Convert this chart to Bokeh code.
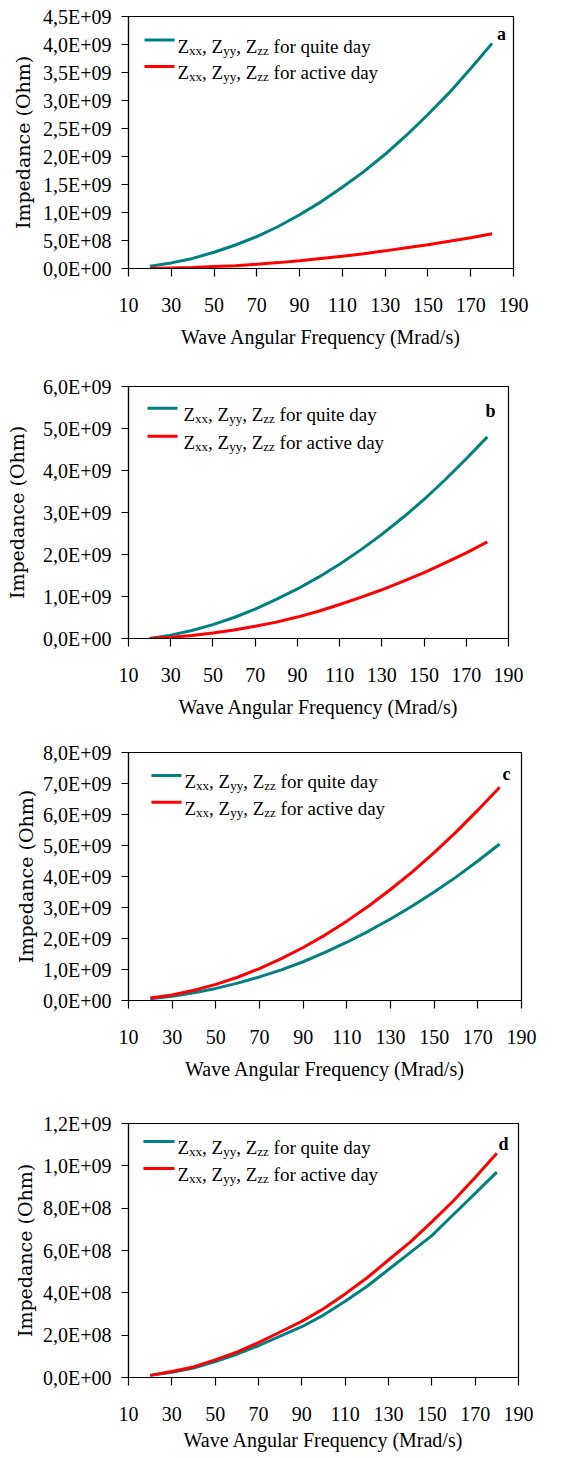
from bokeh.plotting import figure
from bokeh.layouts import column
from bokeh.models import Range1d, FixedTicker, Label
from bokeh.embed import file_html
from bokeh.resources import INLINE
import numpy as np

# ---------------- data (values in units of 1E+09 Ohm) ----------------
freq = [20, 30, 40, 50, 60, 70, 80, 90, 100, 110, 120, 130, 140, 150, 160, 170, 180]

a_quiet = [0.04, 0.10, 0.18, 0.29, 0.42, 0.57, 0.75, 0.96, 1.19, 1.45, 1.73, 2.04, 2.38, 2.75, 3.14, 3.57, 4.02]
a_active = [0.00, 0.01, 0.02, 0.035, 0.05, 0.075, 0.105, 0.14, 0.18, 0.22, 0.265, 0.315, 0.37, 0.425, 0.485, 0.55, 0.62]

b_quiet = [0.00, 0.08, 0.19, 0.33, 0.50, 0.70, 0.93, 1.18, 1.46, 1.77, 2.11, 2.48, 2.88, 3.31, 3.78, 4.28, 4.80]
b_active = [0.00, 0.03, 0.07, 0.13, 0.20, 0.29, 0.39, 0.51, 0.65, 0.81, 0.98, 1.16, 1.36, 1.57, 1.80, 2.04, 2.30]

c_quiet = [0.06, 0.14, 0.25, 0.39, 0.56, 0.76, 0.99, 1.25, 1.55, 1.88, 2.24, 2.63, 3.05, 3.50, 3.98, 4.50, 5.05]
c_active = [0.08, 0.18, 0.33, 0.52, 0.75, 1.03, 1.35, 1.71, 2.11, 2.56, 3.05, 3.58, 4.15, 4.77, 5.43, 6.14, 6.88]

d_quiet = [0.010, 0.025, 0.045, 0.075, 0.110, 0.150, 0.195, 0.240, 0.295, 0.360, 0.430, 0.510, 0.590, 0.670, 0.770, 0.870, 0.970]
d_active = [0.010, 0.028, 0.050, 0.083, 0.120, 0.165, 0.215, 0.265, 0.325, 0.395, 0.470, 0.555, 0.640, 0.735, 0.835, 0.945, 1.060]

x_ticks = [10, 30, 50, 70, 90, 110, 130, 150, 170, 190]
x_labels = ["10", "30", "50", "70", "90", "110", "130", "150", "170", "190"]

a_yticks = [0, 500000000, 1000000000, 1500000000, 2000000000, 2500000000, 3000000000, 3500000000, 4000000000, 4500000000]
a_ylabels = ["0,0E+00", "5,0E+08", "1,0E+09", "1,5E+09", "2,0E+09", "2,5E+09", "3,0E+09", "3,5E+09", "4,0E+09", "4,5E+09"]
b_yticks = [0, 1000000000, 2000000000, 3000000000, 4000000000, 5000000000, 6000000000]
b_ylabels = ["0,0E+00", "1,0E+09", "2,0E+09", "3,0E+09", "4,0E+09", "5,0E+09", "6,0E+09"]
c_yticks = [0, 1000000000, 2000000000, 3000000000, 4000000000, 5000000000, 6000000000, 7000000000, 8000000000]
c_ylabels = ["0,0E+00", "1,0E+09", "2,0E+09", "3,0E+09", "4,0E+09", "5,0E+09", "6,0E+09", "7,0E+09", "8,0E+09"]
d_yticks = [0, 200000000, 400000000, 600000000, 800000000, 1000000000, 1200000000]
d_ylabels = ["0,0E+00", "2,0E+08", "4,0E+08", "6,0E+08", "8,0E+08", "1,0E+09", "1,2E+09"]

legend_quiet = "for quite day"
legend_active = "for active day"
x_title = "Wave Angular Frequency (Mrad/s)"
y_title = "Impedance (Ohm)"

TEAL = "#008080"
RED = "#ff0000"
FONT = "Liberation Serif"
YFONT = "DejaVu Serif"

# Times / Liberation Serif advance widths (per em)
W = {"Z": 0.611, "x": 0.5, "y": 0.5, "z": 0.444, ",": 0.25, " ": 0.25}


def twidth(s, size):
    return sum(W.get(ch, 0.5) for ch in s) * size


def make_panel(quiet, active, yticks, ylabels, tag, bl, bt, bb, fw, fh,
               leg_dx0, leg_dx1, leg_tx, leg_dy, tag_dx, tag_dy,
               x_lbl_standoff=11, y_lbl_standoff=4):
    ymax = yticks[-1]
    p = figure(frame_width=fw, frame_height=fh,
               x_range=Range1d(10, 190), y_range=Range1d(0, ymax),
               output_backend="svg", toolbar_location=None,
               min_border_left=bl, min_border_top=bt, min_border_bottom=bb,
               min_border_right=40)
    p.xgrid.visible = False
    p.ygrid.visible = False
    p.outline_line_color = "black"
    p.outline_line_width = 1.2
    p.background_fill_color = "white"
    p.border_fill_color = "white"

    xa = p.xaxis[0]
    xa.ticker = FixedTicker(ticks=x_ticks)
    xa.major_label_overrides = dict(zip(x_ticks, x_labels))
    xa.major_tick_in = 0
    xa.major_tick_out = 8
    xa.minor_tick_in = 0
    xa.minor_tick_out = 0
    xa.major_label_standoff = 21
    xa.axis_label = x_title
    xa.axis_label_standoff = x_lbl_standoff
    xa.axis_label_text_font = FONT
    xa.axis_label_text_font_size = "20px"
    xa.axis_label_text_font_style = "normal"
    xa.major_label_text_font = FONT
    xa.major_label_text_font_size = "20px"
    xa.axis_line_color = "black"
    xa.axis_line_width = 1.2
    xa.major_tick_line_color = "black"
    xa.major_tick_line_width = 1.2
    xa.axis_label_text_color = "black"
    xa.major_label_text_color = "black"

    ya = p.yaxis[0]
    ya.ticker = FixedTicker(ticks=yticks)
    ya.major_label_overrides = dict(zip(yticks, ylabels))
    ya.major_tick_in = 0
    ya.major_tick_out = 7
    ya.minor_tick_in = 0
    ya.minor_tick_out = 0
    ya.major_label_standoff = 10
    ya.axis_label = y_title
    ya.axis_label_standoff = y_lbl_standoff
    ya.axis_label_text_font = YFONT
    ya.axis_label_text_font_size = "19px"
    ya.axis_label_text_font_style = "normal"
    ya.major_label_text_font = FONT
    ya.major_label_text_font_size = "20px"
    ya.axis_line_color = "black"
    ya.axis_line_width = 1.2
    ya.major_tick_line_color = "black"
    ya.major_tick_line_width = 1.2
    ya.axis_label_text_color = "black"
    ya.major_label_text_color = "black"

    xs = np.array(freq, dtype=float)
    p.line(xs, np.array(quiet) * 1e9, line_color=TEAL, line_width=3)
    p.line(xs, np.array(active) * 1e9, line_color=RED, line_width=3)

    # pixel offsets (from the frame's top-left) -> data coords
    def dx(px):
        return 10 + px * 180.0 / fw

    def dy(py):
        return ymax * (1 - py / fh)

    main_sz, sub_sz = 19, 13
    for i, (col, txt) in enumerate([(TEAL, legend_quiet), (RED, legend_active)]):
        ly = leg_dy[i]
        p.segment(x0=[dx(leg_dx0)], y0=[dy(ly)], x1=[dx(leg_dx1)], y1=[dy(ly)],
                  line_color=col, line_width=3)
        base = ly + 6
        sub_base = base + 4
        pieces = [("Z", False), ("xx", True), (", Z", False), ("yy", True),
                  (", Z", False), ("zz", True)]
        cx = leg_tx
        for s, is_sub in pieces:
            sz = sub_sz if is_sub else main_sz
            p.add_layout(Label(x=dx(cx), y=dy(sub_base if is_sub else base), text=s,
                               text_font=FONT, text_font_size=f"{sz}px",
                               text_baseline="alphabetic", text_align="left",
                               text_color="black"))
            cx += twidth(s, sz)
        cx += W[" "] * main_sz
        p.add_layout(Label(x=dx(cx), y=dy(base), text=txt,
                           text_font=FONT, text_font_size=f"{main_sz}px",
                           text_baseline="alphabetic", text_align="left",
                           text_color="black"))

    p.add_layout(Label(x=dx(fw + tag_dx), y=dy(tag_dy), text=tag,
                       text_font=FONT, text_font_size="18px", text_font_style="bold",
                       text_baseline="middle", text_align="center", text_color="black"))
    return p


pa = make_panel(a_quiet, a_active, a_yticks, a_ylabels, "a",
                bl=122, bt=16, bb=92, fw=385, fh=252,
                leg_dx0=16, leg_dx1=46, leg_tx=49, leg_dy=(23.5, 50), tag_dx=-12, tag_dy=17,
                y_lbl_standoff=6)
pb = make_panel(b_quiet, b_active, b_yticks, b_ylabels, "b",
                bl=128, bt=26, bb=88, fw=380, fh=252,
                leg_dx0=19, leg_dx1=49, leg_tx=55, leg_dy=(21.7, 49.7), tag_dx=-18, tag_dy=24,
                y_lbl_standoff=12)
pc = make_panel(c_quiet, c_active, c_yticks, c_ylabels, "c",
                bl=115, bt=26, bb=90, fw=393, fh=248,
                leg_dx0=23, leg_dx1=53, leg_tx=56, leg_dy=(23, 49.7), tag_dx=-15, tag_dy=21,
                y_lbl_standoff=3)
pd_ = make_panel(d_quiet, d_active, d_yticks, d_ylabels, "d",
                 bl=117, bt=33, bb=76, fw=390, fh=254,
                 leg_dx0=15, leg_dx1=46, leg_tx=49, leg_dy=(18, 45), tag_dx=-15, tag_dy=20,
                 x_lbl_standoff=5, y_lbl_standoff=4)

layout = column(pa, pb, pc, pd_)
open("out.html", "w").write(file_html(layout, INLINE))
